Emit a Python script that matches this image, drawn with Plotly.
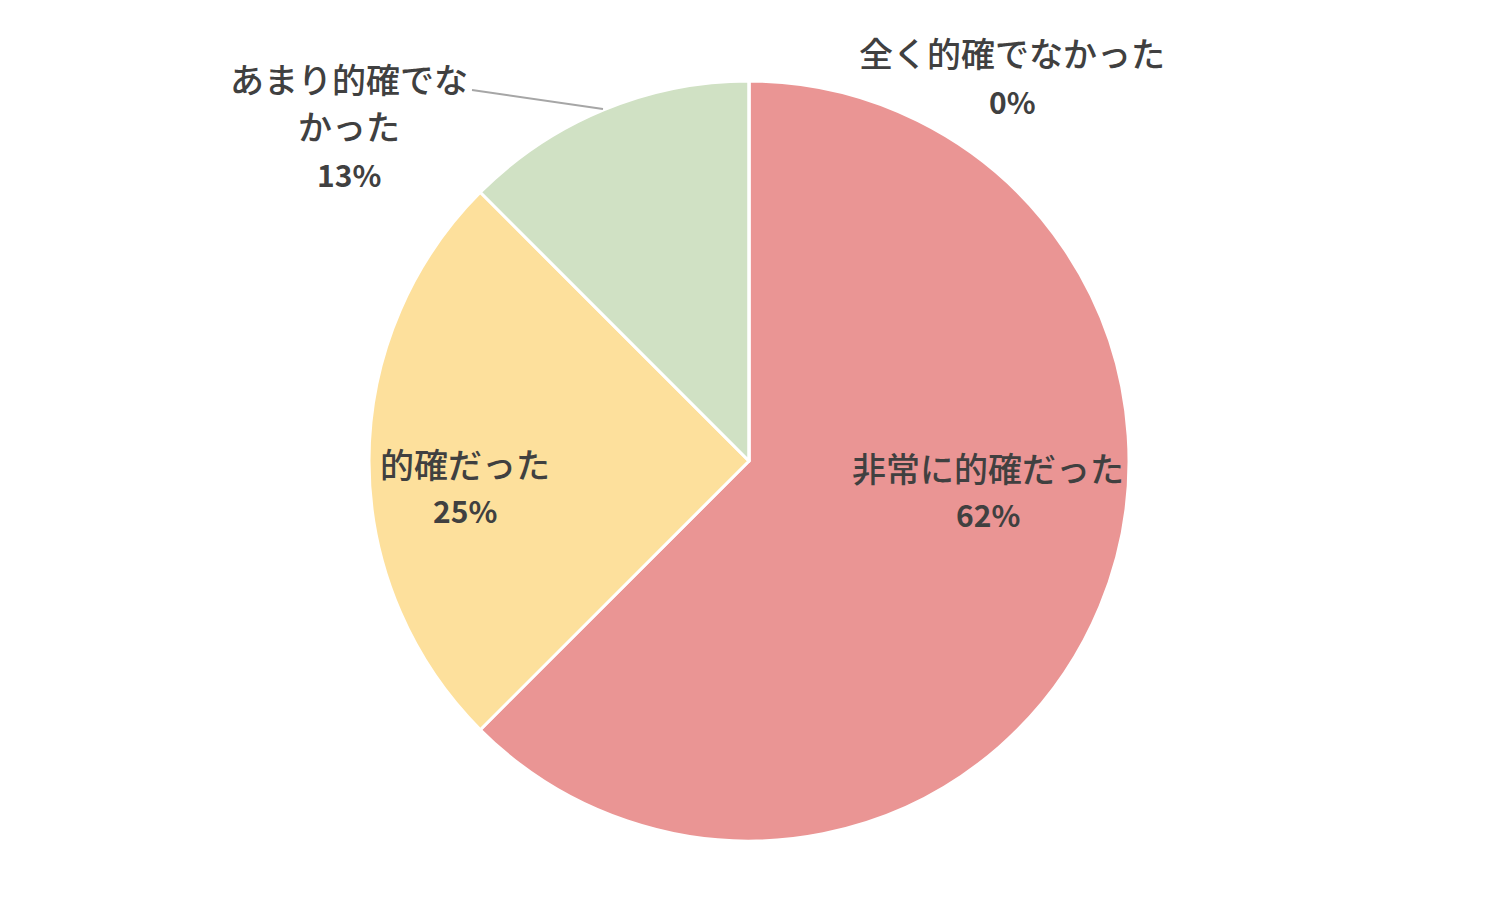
import plotly.graph_objects as go

# ── data ─────────────────────────────────────────────────────────────────────
categories = ["非常に的確だった", "的確だった", "あまり的確でなかった", "全く的確でなかった"]
values = [62.5, 25.0, 12.5, 0.0]
pct_labels = ["62%", "25%", "13%", "0%"]
colors = ["#EA9594", "#FDE09C", "#D0E1C4", "#BDD7EE"]

# label text as drawn in the chart (long one wraps onto two lines)
name_lines = [["非常に的確だった"], ["的確だった"], ["あまり的確でな", "かった"], ["全く的確でなかった"]]

W, H = 1498, 923
OFF = 8  # page body margin shifts the plot by 8px
TXT = "#404040"
FONT = "Noto Sans CJK JP"


def px_x(x):
    return (x - OFF) / W


def px_y(y):
    return 1 - (y - OFF) / H


fig = go.Figure(go.Pie(
    labels=categories,
    values=values,
    sort=False,
    direction="clockwise",
    rotation=0,
    marker=dict(colors=colors, line=dict(color="white", width=3)),
    textinfo="none",
    hoverinfo="label+percent",
    showlegend=False,
    domain=dict(x=[px_x(369), px_x(1129)], y=[px_y(841), px_y(81)]),
))

# label placement (pixel centres of first name line and of the percentage)
name_pos = [(988, 467), (465, 463), (349, 78), (1012, 53)]
pct_pos = [(988, 514), (465, 510), (349, 174), (1012, 101)]
LINE_GAP = 48

for lines, (nx, ny), pct, (qx, qy) in zip(name_lines, name_pos, pct_labels, pct_pos):
    for i, ln in enumerate(lines):
        fig.add_annotation(x=px_x(nx), y=px_y(ny + i * LINE_GAP), xref="paper", yref="paper",
                           text=ln, showarrow=False, xanchor="center", yanchor="middle",
                           font=dict(family=FONT, size=34, color=TXT, weight=500))
    fig.add_annotation(x=px_x(qx), y=px_y(qy), xref="paper", yref="paper",
                       text="<b>" + pct + "</b>", showarrow=False,
                       xanchor="center", yanchor="middle",
                       font=dict(family=FONT, size=30, color=TXT))

# leader line for the small slice label
fig.add_shape(type="line", xref="paper", yref="paper",
              x0=px_x(472), y0=px_y(90), x1=px_x(603), y1=px_y(109),
              line=dict(color="#A6A6A6", width=2))

fig.update_layout(
    width=W, height=H,
    margin=dict(l=0, r=0, t=0, b=0),
    paper_bgcolor="white",
    plot_bgcolor="white",
)

fig.write_html("out.html")
